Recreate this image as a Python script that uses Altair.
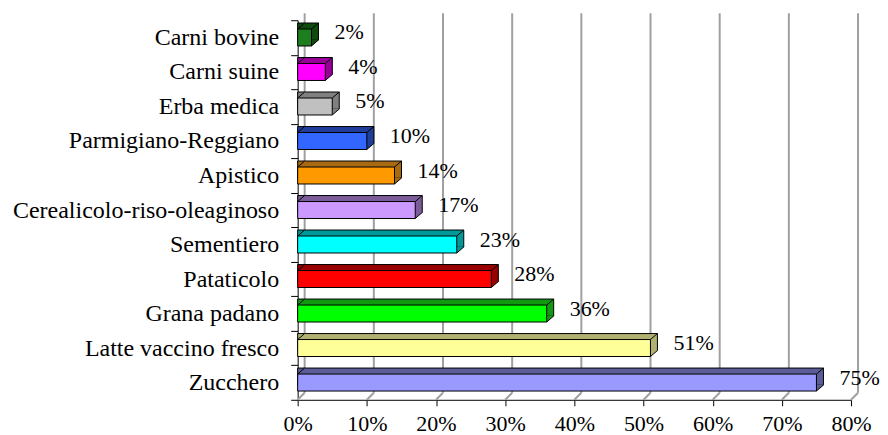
import altair as alt
import pandas as pd

categories = ["Carni bovine", "Carni suine", "Erba medica", "Parmigiano-Reggiano",
              "Apistico", "Cerealicolo-riso-oleaginoso", "Sementiero", "Pataticolo",
              "Grana padano", "Latte vaccino fresco", "Zucchero"]
values = [2, 4, 5, 10, 14, 17, 23, 28, 36, 51, 75]
x_ticks = [0, 10, 20, 30, 40, 50, 60, 70, 80]

front_colors = ["#1E7E1E", "#FF00FF", "#C0C0C0", "#3366FF", "#FF9900", "#CC99FF",
                "#00FFFF", "#FF0000", "#00FF00", "#FFFF99", "#9999FF"]
side_colors = ["#0F4A0F", "#990099", "#808080", "#1F3D99", "#A86A10", "#7A5C99",
               "#009999", "#990000", "#119911", "#B0B070", "#5C5C99"]

df = pd.DataFrame({"cat": categories, "v": values})
ticks_df = pd.DataFrame({"t": x_ticks})

FONT = "Liberation Serif"
GRID = "#A0A0A0"
DX, DY = 7, 6
BAR = 17
DIAG = "M-1,0.857L1,-0.857"
DIAG_FLOOR = "M-1,1L1,-1"
TRI_TL = "M-1,0.857L1,-0.857L1.15,-0.857L1.15,0.857Z"
TRI_BR = "M-1,0.857L1,-0.857L1,-1.0L-1,-1.0Z"

xs = alt.Scale(domain=[0, 80], nice=False, zero=True)
ys = alt.Scale(domain=categories, paddingInner=0, paddingOuter=0)

x_axis = alt.Axis(values=x_ticks, labelExpr="datum.value + '%'", title=None, grid=False,
                  domainColor="black", tickColor="black", tickSize=6, labelFont=FONT,
                  labelFontSize=22, labelColor="black", labelPadding=8, labelFlush=False)
y_axis = alt.Axis(title=None, tickBand="extent", domainColor="black", tickColor="black",
                  tickSize=7, labelFont=FONT, labelFontSize=24, labelColor="black",
                  labelPadding=12, grid=False, labelLimit=0)

Xn = alt.X("v:Q", scale=xs, stack=None)
Y = alt.Y("cat:N", scale=ys, axis=y_axis, sort=None)
Yn = alt.Y("cat:N", scale=ys, sort=None)
X0 = alt.X(datum=0, type="quantitative", scale=xs)

side_color = alt.Color("cat:N", scale=alt.Scale(domain=categories, range=side_colors), legend=None)
front_color = alt.Color("cat:N", scale=alt.Scale(domain=categories, range=front_colors), legend=None)

base = alt.Chart(df)

grid = alt.Chart(ticks_df).mark_rule(color=GRID, strokeWidth=2, xOffset=DX).encode(
    x=alt.X("t:Q", scale=xs, axis=x_axis), y=alt.value(-7), y2=alt.value(373))
floor = alt.Chart(ticks_df).mark_point(shape=DIAG_FLOOR, size=49, filled=False, color=GRID,
                                       strokeWidth=2, opacity=1, xOffset=3.5).encode(
    x=alt.X("t:Q", scale=xs), y=alt.value(376.5))

back = base.mark_bar(size=BAR, xOffset=DX, x2Offset=DX, yOffset=-DY, y2Offset=-DY,
                     stroke="black", strokeWidth=1).encode(x=Xn, y=Y, color=side_color)
tri_tl = base.mark_point(shape=TRI_TL, size=49, filled=True, opacity=1, strokeWidth=0,
                         xOffset=3.5, yOffset=-BAR / 2 - 3).encode(x=X0, y=Yn, color=side_color)
tri_br = base.mark_point(shape=TRI_BR, size=49, filled=True, opacity=1, strokeWidth=0,
                         xOffset=3.5, yOffset=BAR / 2 - 3).encode(x=Xn, y=Yn, color=side_color)
front = base.mark_bar(size=BAR, stroke="black", strokeWidth=1).encode(x=Xn, y=Yn, color=front_color)

diag_kw = dict(shape=DIAG, size=49, filled=False, color="black", strokeWidth=1, opacity=1, xOffset=3.5)
d_tl = base.mark_point(yOffset=-BAR / 2 - 3, **diag_kw).encode(x=X0, y=Yn)
d_tr = base.mark_point(yOffset=-BAR / 2 - 3, **diag_kw).encode(x=Xn, y=Yn)
d_br = base.mark_point(yOffset=BAR / 2 - 3, **diag_kw).encode(x=Xn, y=Yn)

labels = base.transform_calculate(label="datum.v + '%'").mark_text(
    align="left", baseline="middle", dx=23, dy=-5, font=FONT, fontSize=22, color="black"
).encode(x=Xn, y=Yn, text="label:N")

chart = alt.layer(grid, floor, back, tri_tl, tri_br, front, d_tl, d_tr, d_br, labels).resolve_scale(
    color="independent"
).properties(
    width=554, height=380,
    padding={"left": 4, "top": 0, "right": 0, "bottom": 0}
).configure(font=FONT).configure_view(stroke=None)

chart.save("out.html", embed_options={"renderer": "svg", "actions": False})
